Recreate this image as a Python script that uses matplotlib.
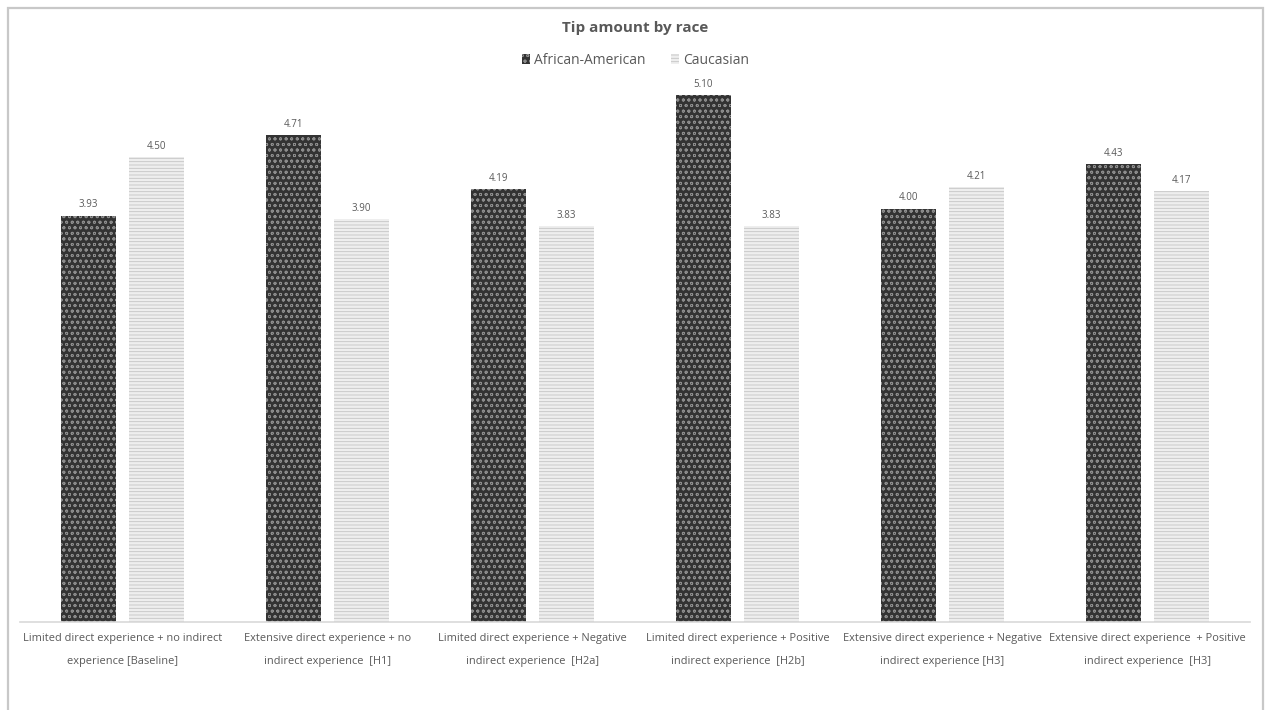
import matplotlib
matplotlib.use("Agg")
import matplotlib.pyplot as plt
import numpy as np
from matplotlib.patches import Patch, Rectangle

categories = [
    "Limited direct experience + no indirect\nexperience [Baseline]",
    "Extensive direct experience + no\nindirect experience  [H1]",
    "Limited direct experience + Negative\nindirect experience  [H2a]",
    "Limited direct experience + Positive\nindirect experience  [H2b]",
    "Extensive direct experience + Negative\nindirect experience [H3]",
    "Extensive direct experience  + Positive\nindirect experience  [H3]",
]
african_american = [3.93, 4.71, 4.19, 5.10, 4.00, 4.43]
caucasian = [4.50, 3.90, 3.83, 3.83, 4.21, 4.17]
series_names = ["African-American", "Caucasian"]

TEXT = "#595959"
plt.rcParams["font.family"] = ["Open Sans", "DejaVu Sans"]
plt.rcParams["hatch.linewidth"] = 0.6

W, H = 1271, 710
fig = plt.figure(figsize=(W / 100, H / 100), dpi=100)
ax = fig.add_axes([20 / W, (H - 622) / H, 1230 / W, (622 - 80) / H])

# chart frame (open at bottom, as in the source screenshot)
fig.patches.append(Rectangle((8 / W, -0.05), 1255 / W, 1.05 - 8 / H,
                             transform=fig.transFigure, fill=False,
                             edgecolor="#c8c8c8", lw=1.6))

x = np.arange(len(categories))
bw = 0.268
off = 0.166
dark = dict(facecolor="#333333", edgecolor="#8c8c8c", hatch="ooo", linewidth=0)
light = dict(facecolor="#eeeeee", edgecolor="#c4c4c4", hatch="-----", linewidth=0)
b1 = ax.bar(x - off, african_american, bw, **dark)
b2 = ax.bar(x + off, caucasian, bw, **light)

for bars, vals in ((b1, african_american), (b2, caucasian)):
    for b, v in zip(bars, vals):
        ax.annotate(f"{v:.2f}", (b.get_x() + b.get_width() / 2, v),
                    xytext=(0, 4), textcoords="offset points",
                    ha="center", va="bottom", fontsize=7, color=TEXT)

ax.set_xlim(-0.5, len(categories) - 0.5)
ax.set_ylim(0, 5.247)
ax.set_xticks(x)
ax.set_xticklabels(categories, fontsize=7.9, color=TEXT, linespacing=2.5)
ax.tick_params(axis="x", length=0, pad=8)
ax.set_yticks([])
for s in ("top", "right", "left"):
    ax.spines[s].set_visible(False)
ax.spines["bottom"].set_color("#d9d9d9")
ax.spines["bottom"].set_linewidth(1.2)

fig.text(0.5, 1 - 28 / H, "Tip amount by race", ha="center", va="center",
         fontsize=11, fontweight="bold", color=TEXT)
handles = [Patch(label=series_names[0], **dark), Patch(label=series_names[1], **light)]
fig.legend(handles=handles, loc="center", bbox_to_anchor=(0.5, 1 - 60 / H),
           ncol=2, frameon=False, fontsize=10, labelcolor=TEXT,
           handlelength=0.6, handleheight=0.7, handletextpad=0.3, columnspacing=1.8)

fig.savefig("out.png", dpi=100)
